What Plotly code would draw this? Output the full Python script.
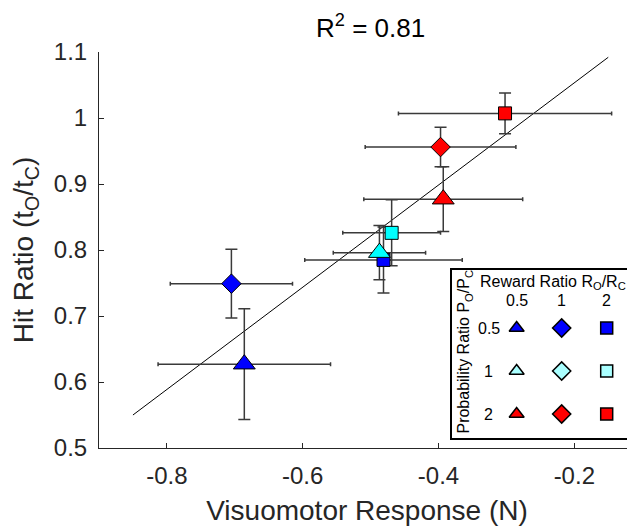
import plotly.graph_objects as go

# ---------------- data ----------------
prob_ratio   = ["0.5", "0.5", "0.5", "1", "1", "2", "2", "2"]
reward_ratio = ["1", "0.5", "2", "0.5", "2", "0.5", "1", "2"]
visuomotor   = [-0.705, -0.686, -0.481, -0.487, -0.469, -0.393, -0.397, -0.302]
hit_ratio    = [0.749, 0.627, 0.785, 0.796, 0.826, 0.877, 0.956, 1.007]
visuo_err    = [0.090, 0.127, 0.116, 0.068, 0.072, 0.117, 0.111, 0.157]
hit_err      = [0.052, 0.084, 0.050, 0.041, 0.050, 0.049, 0.030, 0.031]

fit_x = [-0.85, -0.15]
fit_y = [0.550, 1.092]

x_ticks = [-0.8, -0.6, -0.4, -0.2]
x_tick_text = ["-0.8", "-0.6", "-0.4", "-0.2"]
y_ticks = [0.5, 0.6, 0.7, 0.8, 0.9, 1.0, 1.1]
y_tick_text = ["0.5", "0.6", "0.7", "0.8", "0.9", "1", "1.1"]

levels = ["0.5", "1", "2"]
r_squared = "0.81"

# ---------------- styles ----------------
FONT = "Liberation Sans, Arial, Helvetica, sans-serif"
AX = "#262626"
symbol_of = {"0.5": "triangle-up", "1": "diamond", "2": "square"}
size_of = {"0.5": 19, "1": 15, "2": 13}
color_of = {"0.5": "#0000ff", "1": "#00ffff", "2": "#ff0000"}
legend_color_of = {"0.5": "#0000ff", "1": "#aaffff", "2": "#ff0000"}
legend_size_of = {"0.5": 13, "1": 14, "2": 12}

fig = go.Figure()

# regression line
fig.add_trace(go.Scatter(x=fit_x, y=fit_y, mode="lines",
                         line=dict(color="black", width=1), hoverinfo="skip",
                         showlegend=False))

# data points with error bars
fig.add_trace(go.Scatter(
    x=visuomotor, y=hit_ratio, mode="markers",
    marker=dict(symbol=[symbol_of[r] for r in reward_ratio],
                size=[size_of[r] for r in reward_ratio],
                color=[color_of[p] for p in prob_ratio],
                opacity=1,
                line=dict(color="black", width=1)),
    error_x=dict(type="data", array=visuo_err, visible=True,
                 color="#3a3a3a", thickness=1.5, width=2),
    error_y=dict(type="data", array=hit_err, visible=True,
                 color="#3a3a3a", thickness=1.5, width=6),
    showlegend=False))

# custom legend grid (second subplot)
lx, ly, lsym, lcol, lsize = [], [], [], [], []
for p in levels:
    for r in levels:
        lx.append(r)
        ly.append(p)
        lsym.append(symbol_of[r])
        lcol.append(legend_color_of[p])
        lsize.append(legend_size_of[r])
fig.add_trace(go.Scatter(
    x=lx, y=ly, xaxis="x2", yaxis="y2", mode="markers",
    marker=dict(symbol=lsym, size=lsize, color=lcol, opacity=1,
                line=dict(color="black", width=1.5)),
    showlegend=False, hoverinfo="skip"))

annotations = [
    dict(text="R<sup>2</sup> = " + r_squared, xref="paper", yref="paper",
         x=0.5056, y=1.0, yshift=7, xanchor="center", yanchor="bottom", showarrow=False,
         font=dict(size=26, color="black", family=FONT)),
    dict(text="Reward Ratio R<sub>O</sub>/R<sub>C</sub>", xref="x2", yref="y2",
         x=0.81, y=-1.05, xanchor="center", yanchor="middle", showarrow=False,
         font=dict(size=16, color="black", family=FONT)),
    dict(text="Probability Ratio P<sub>O</sub>/P<sub>C</sub>", xref="x2", yref="y2",
         x=-1.15, y=0.55, xanchor="center", yanchor="middle", showarrow=False,
         textangle=-90, font=dict(size=16, color="black", family=FONT)),
]
for i, lab in enumerate(levels):
    annotations.append(dict(text=lab, xref="x2", yref="y2", x=i, y=-0.65,
                            xanchor="center", yanchor="middle", showarrow=False,
                            font=dict(size=16, color="black", family=FONT)))
    annotations.append(dict(text=lab, xref="x2", yref="y2", x=-0.62, y=i,
                            xanchor="center", yanchor="middle", showarrow=False,
                            font=dict(size=16, color="black", family=FONT)))

# the page body has an 8px margin, so the figure is made 8px smaller
fig.update_layout(
    width=627, height=519,
    margin=dict(l=91, r=0, t=44, b=79),
    paper_bgcolor="white", plot_bgcolor="white",
    font=dict(family=FONT, color=AX),
    xaxis=dict(range=[-0.9, -0.1106], tickvals=x_ticks, ticktext=x_tick_text,
               ticks="inside", ticklen=5, tickcolor=AX, tickwidth=1,
               showline=True, linecolor=AX, linewidth=1, showgrid=False, zeroline=False,
               tickfont=dict(size=24, color=AX, family=FONT), ticklabelstandoff=6,
               title=dict(text="Visuomotor Response (N)", standoff=12,
                          font=dict(size=28, color=AX, family=FONT)),
               automargin=False),
    yaxis=dict(range=[0.5, 1.1], tickvals=y_ticks, ticktext=y_tick_text,
               ticks="inside", ticklen=5, tickcolor=AX, tickwidth=1,
               showline=True, linecolor=AX, linewidth=1, showgrid=False, zeroline=False,
               tickfont=dict(size=24, color=AX, family=FONT), ticklabelstandoff=6,
               title=dict(text="Hit Ratio (t<sub>O</sub>/t<sub>C</sub>)", standoff=22,
                          font=dict(size=28, color=AX, family=FONT)),
               automargin=False),
    xaxis2=dict(domain=[0.659, 0.9875], anchor="y2", type="category",
                categoryorder="array", categoryarray=levels,
                range=[-1.431, 2.48], showline=True, mirror=True, linecolor="black",
                linewidth=1.5, showticklabels=False, ticks="", showgrid=False,
                zeroline=False),
    yaxis2=dict(domain=[0.0245, 0.4495], anchor="x2", type="category",
                categoryorder="array", categoryarray=levels,
                range=[2.565, -1.349], showline=True, mirror=True, linecolor="black",
                linewidth=1.5, showticklabels=False, ticks="", showgrid=False,
                zeroline=False),
    annotations=annotations,
    shapes=[dict(type="rect", xref="x2 domain", yref="y2 domain", x0=0, x1=1, y0=0, y1=1,
                 fillcolor="white", line=dict(width=0), layer="below")],
)

fig.write_html("out.html")
